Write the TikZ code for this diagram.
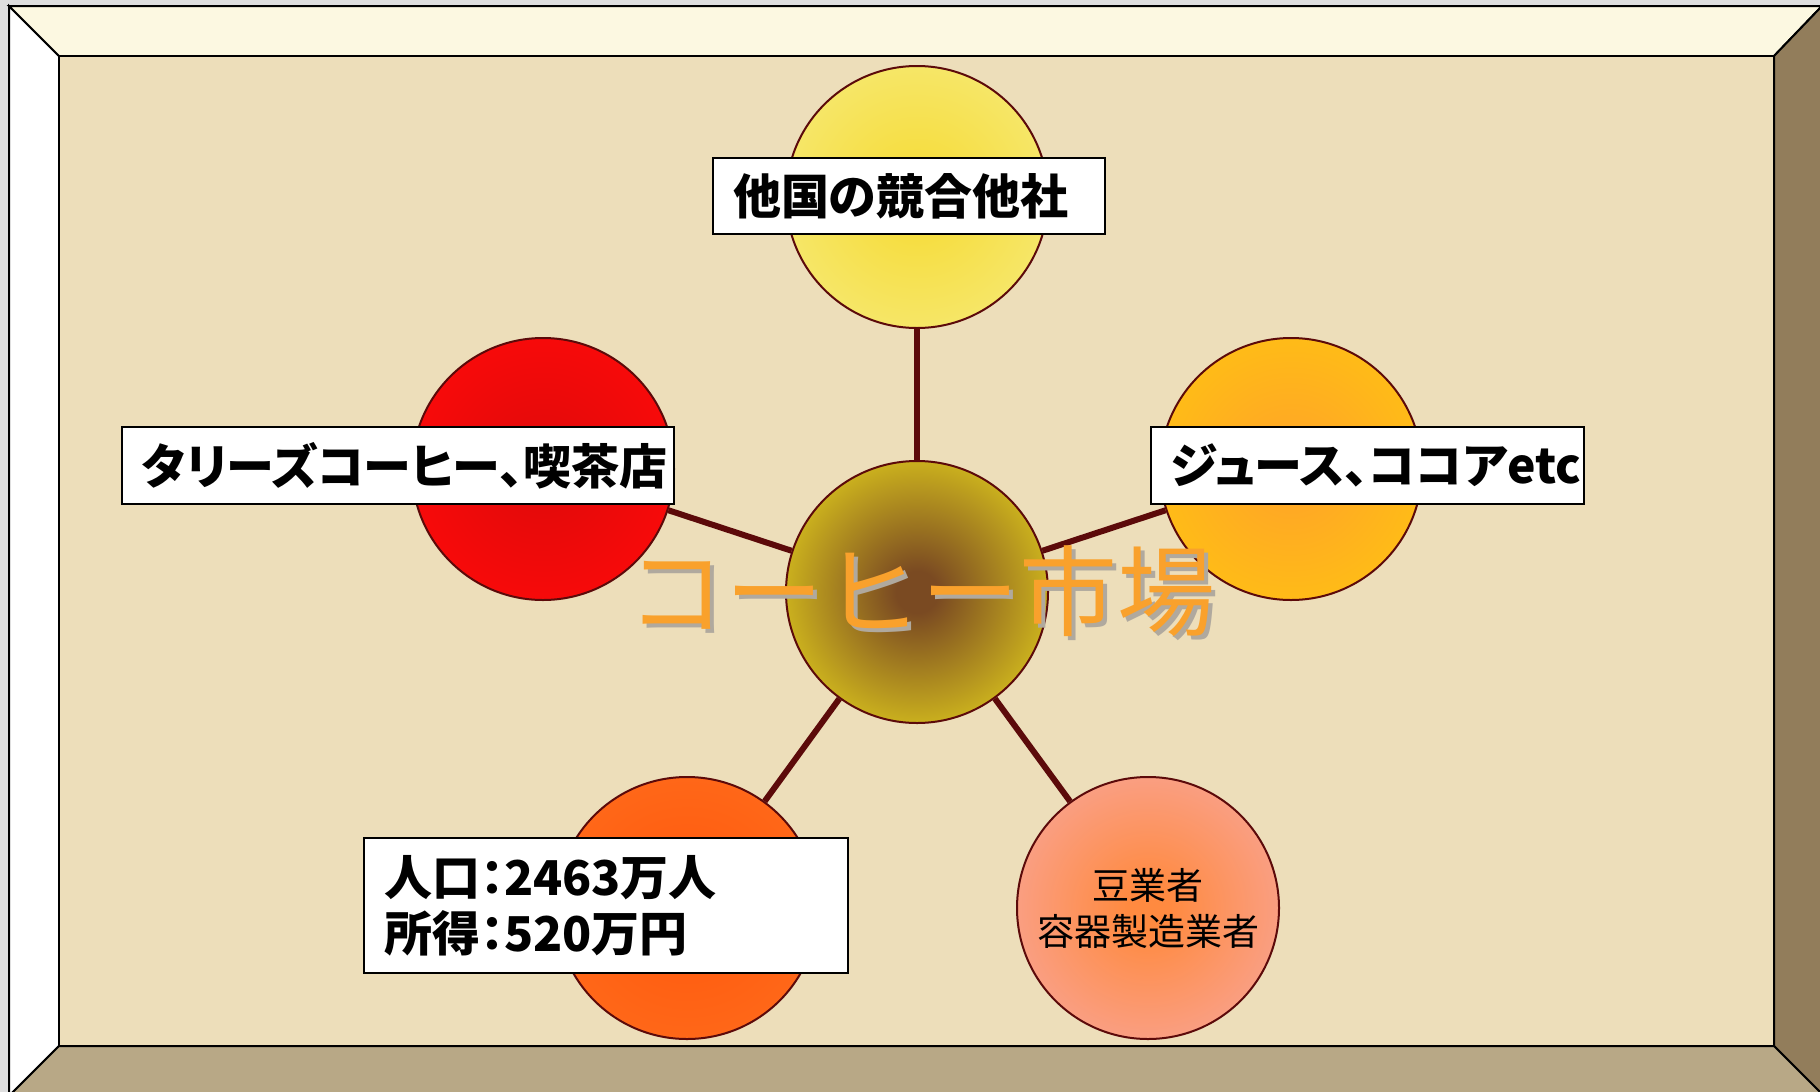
\documentclass[tikz,border=0pt]{standalone}
\usepackage{fontspec}
\newfontfamily\jp[RawFeature=+palt]{Noto Sans CJK JP}
\newfontfamily\jpwide{Noto Sans CJK JP}

\definecolor{linkred}{HTML}{5C0A0A}
\definecolor{paper}{HTML}{EDDEBA}
\definecolor{bevtop}{HTML}{FCF8E1}
\definecolor{bevright}{HTML}{927D5B}
\definecolor{bevbot}{HTML}{B8A886}
\definecolor{outgray}{HTML}{DEDEDE}
\definecolor{mktorange}{HTML}{F9A12C}
\definecolor{shadowgray}{HTML}{B0A99E}
% circle colours
\definecolor{mktin}{HTML}{7A4A22}   \definecolor{mktout}{HTML}{E8D61C}
\definecolor{rivalin}{HTML}{F6DC3A} \definecolor{rivalout}{HTML}{F6EA78}
\definecolor{cafein}{HTML}{E20A0A}  \definecolor{cafeout}{HTML}{FF0A0A}
\definecolor{drinkin}{HTML}{FFA626} \definecolor{drinkout}{HTML}{FFC312}
\definecolor{popin}{HTML}{FF5A0E}   \definecolor{popout}{HTML}{FF6C1C}
\definecolor{beanin}{HTML}{FF8A40}  \definecolor{beanout}{HTML}{F8A69A}
\colorlet{ballin}{white}
\colorlet{ballout}{white}

\pgfdeclareradialshading[ballin,ballout]{ball}{\pgfpoint{0bp}{0bp}}{%
  color(0bp)=(ballin); color(4bp)=(ballin); color(33bp)=(ballout); color(50bp)=(ballout)}

\pgfdeclarelayer{back}
\pgfdeclarelayer{links}
\pgfsetlayers{back,links,main}

\tikzset{
  bevel/.style={draw=black, line width=1pt, line join=miter},
  ball/.style={circle, draw=linkred, line width=1pt, minimum size=131pt,
    inner sep=0pt, shading=ball, /utils/exec={\colorlet{ballin}{#1in}\colorlet{ballout}{#1out}}},
  link/.style={draw=linkred, line width=3pt},
  tag/.style={draw=black, fill=white, line width=0.8pt, inner xsep=10pt, inner ysep=0pt,
    align=left, font=\jp\bfseries\fontsize{24}{28}\selectfont},
  bigtxt/.style={font=\jpwide\fontsize{49}{49}\selectfont, inner sep=0pt}
}

\begin{document}
\begin{tikzpicture}[x=0.5pt,y=-0.5pt]
\useasboundingbox (0,0) rectangle (1820,1092);

% frame
\begin{pgfonlayer}{back}
\fill[outgray] (0,0) rectangle (1820,1092);
\filldraw[bevel, fill=white] (9,6) -- (59,56) -- (59,1046) -- (9,1096) -- cycle;
\filldraw[bevel, fill=bevtop] (9,6) -- (1822,6) -- (1774,56) -- (59,56) -- cycle;
\filldraw[bevel, fill=bevright] (1822,6) -- (1774,56) -- (1774,1046) -- (1824,1096) -- cycle;
\filldraw[bevel, fill=bevbot] (59,1046) -- (1774,1046) -- (1824,1096) -- (9,1096) -- cycle;
\filldraw[bevel, fill=paper] (59,56) rectangle (1774,1046);
\end{pgfonlayer}

% circles
\node[ball=mkt] (mkt) at (917,592) {};
\node[ball=rival] (rival) at (917,197) {};
\node[ball=cafe] (cafe) at (543,469) {};
\node[ball=drink] (drink) at (1291,469) {};
\node[ball=pop] (pop) at (687,908) {};
\node[ball=bean, font=\jpwide\fontsize{18.5}{23}\selectfont, align=center] (bean) at (1148,908)
  {豆業者\\容器製造業者};

\begin{pgfonlayer}{links}
\foreach \n in {rival,cafe,drink,pop,bean}
  \draw[link] (mkt) -- (\n);
\end{pgfonlayer}

% title with its shadow
\node[bigtxt] (mkttxt) at (921,593)
  {\makebox[0pt][l]{\hspace{2pt}\raisebox{-2pt}{\textcolor{shadowgray}{コーヒー市場}}}%
   \textcolor{mktorange}{コーヒー市場}};

% labels
\node[tag, text width=176pt, minimum height=38pt] (rivaltag) at (909,196) {他国の競合他社};
\node[tag, text width=256pt, minimum height=38.5pt] (cafetag) at (398,465.5) {タリーズコーヒー、喫茶店};
\node[tag, text width=196.5pt, minimum height=38.5pt] (drinktag) at (1367.5,465.5) {ジュース、ココアetc};
\node[tag, text width=222pt, minimum height=67.5pt] (poptag) at (606,905.5)
  {人口：2463万人\\所得：520万円};
\end{tikzpicture}
\end{document}
